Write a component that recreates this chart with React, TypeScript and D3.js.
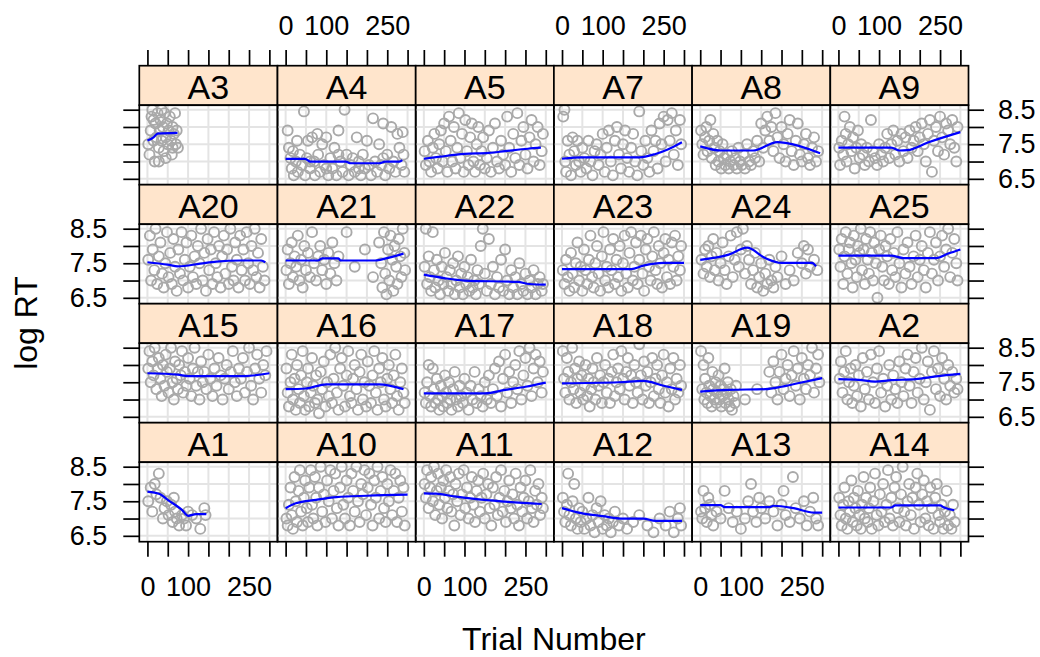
import React, { useEffect, useRef } from "react";
import * as d3 from "d3";

const width = 1040;
const height = 657;
const left = 139.3;
const top = 65.7;
const colW = 138.2;
const rowH = 119;
const stripH = 39.5;
const panelH = rowH - stripH;
const font = "'Liberation Sans', Arial, sans-serif";

const trialTicks = [0, 50, 100, 150, 200, 250, 300];
const trialLabels = [0, 100, 250];
const rtTicks = [6.5, 7, 7.5, 8, 8.5];
const rtLabels = [6.5, 7.5, 8.5];
const trialDomain = [-20, 320];
const rtDomain = [6.33, 8.63];

// panel order, top row first (lattice draws bottom-up)
const layoutRows = [
  ["A3", "A4", "A5", "A7", "A8", "A9"],
  ["A20", "A21", "A22", "A23", "A24", "A25"],
  ["A15", "A16", "A17", "A18", "A19", "A2"],
  ["A1", "A10", "A11", "A12", "A13", "A14"],
];

// [trial number, log RT]
const ptsA3 = [[2,7.5],[5,7.2],[8,7.9],[10,8.3],[12,8.5],[15,7.6],[18,7.0],[20,8.1],[22,7.7],[25,8.4],[28,7.4],[30,7.9],[32,8.2],[35,7.6],[38,8.0],[40,7.3],[42,8.4],[45,7.7],[48,8.1],[50,7.5],[52,7.9],[55,8.3],[58,7.6],[60,7.2],[62,8.0],[65,7.8],[68,8.4],[70,7.5],[72,7.9],[75,7.4],[15,8.2],[35,8.5],[45,7.1],[28,7.0],[62,7.4]];
const ptsA4 = [[5,7.9],[8,7.4],[12,7.1],[15,6.8],[18,7.3],[20,6.6],[25,7.0],[28,7.6],[30,6.7],[35,7.2],[40,6.9],[45,8.45],[48,6.6],[52,7.1],[55,7.6],[60,6.8],[65,7.7],[70,7.0],[72,6.6],[78,7.8],[80,7.2],[85,6.7],[90,7.5],[95,6.9],[100,7.7],[105,6.6],[110,7.1],[115,6.8],[120,7.4],[125,6.6],[130,7.9],[135,7.0],[140,6.7],[145,8.5],[150,7.2],[155,6.6],[160,6.9],[165,7.1],[170,6.7],[175,7.7],[180,7.0],[185,6.6],[190,7.2],[195,6.8],[200,7.6],[205,6.9],[210,6.6],[215,8.25],[220,7.0],[225,6.7],[230,7.5],[235,6.9],[240,8.1],[245,6.6],[250,7.2],[255,6.8],[260,8.0],[265,7.0],[270,6.7],[275,7.8],[280,7.4],[285,6.9],[288,7.85],[290,7.2],[292,6.7],[60,7.0],[100,6.8],[180,6.8],[240,7.1],[130,7.2]];
const ptsA5 = [[2,7.3],[5,6.9],[10,7.6],[14,7.0],[18,6.7],[22,7.4],[26,7.8],[30,7.1],[34,6.8],[38,7.5],[42,7.9],[46,7.0],[50,8.1],[54,7.3],[58,6.7],[62,8.3],[66,7.6],[70,7.0],[74,8.0],[78,6.8],[82,7.4],[86,8.4],[90,7.1],[94,7.8],[98,6.7],[102,8.2],[106,7.3],[110,6.9],[114,7.7],[118,8.1],[122,7.0],[126,6.7],[130,7.5],[134,8.0],[138,6.9],[142,7.3],[146,7.7],[150,6.8],[155,7.1],[160,7.9],[165,6.7],[170,7.4],[175,8.1],[180,7.0],[185,6.8],[190,7.6],[195,7.2],[200,6.9],[205,8.3],[210,7.4],[215,6.7],[220,7.8],[225,7.1],[230,8.4],[235,6.9],[240,7.6],[245,8.0],[250,7.2],[255,6.8],[260,7.7],[265,8.2],[270,7.0],[275,7.5],[280,8.0],[285,6.9],[290,7.3],[293,7.8]];
const ptsA7 = [[3,8.3],[6,8.5],[8,7.0],[10,6.7],[14,7.6],[18,7.2],[22,6.6],[26,7.7],[30,7.3],[34,6.9],[38,7.6],[42,7.0],[46,6.7],[50,7.4],[55,7.1],[60,6.8],[65,7.6],[70,7.0],[75,6.6],[80,7.3],[85,7.5],[90,6.9],[95,7.2],[100,7.8],[105,6.7],[110,7.4],[115,7.9],[120,7.0],[125,6.6],[130,7.6],[135,8.0],[140,7.2],[145,6.8],[150,7.5],[155,7.9],[160,7.1],[165,6.7],[170,7.4],[175,7.8],[180,7.0],[185,6.6],[190,8.45],[195,7.3],[200,6.9],[205,7.6],[210,7.1],[215,6.7],[220,7.9],[225,7.3],[230,7.6],[235,6.8],[240,8.1],[245,7.5],[250,8.3],[255,7.0],[260,8.2],[265,7.6],[270,8.4],[275,7.2],[280,7.9],[285,6.9],[290,8.2],[293,7.5]];
const ptsA8 = [[2,7.9],[5,7.5],[8,7.2],[12,7.7],[15,8.0],[18,7.3],[22,7.6],[25,8.2],[28,7.1],[32,7.8],[35,7.4],[38,6.9],[42,7.6],[45,7.0],[48,7.3],[52,6.8],[55,7.5],[58,7.1],[62,6.9],[66,7.2],[70,6.8],[74,7.0],[78,7.3],[82,6.9],[86,7.1],[90,6.8],[94,7.4],[98,7.0],[102,6.9],[106,7.2],[110,6.8],[115,7.5],[120,7.0],[125,6.9],[130,7.3],[135,7.1],[140,7.6],[145,7.0],[150,8.1],[155,7.4],[160,7.9],[165,8.3],[170,7.6],[175,8.0],[180,7.3],[185,8.4],[190,7.7],[195,7.1],[200,8.0],[205,7.5],[210,7.0],[215,7.8],[220,8.2],[225,7.3],[230,6.9],[235,7.6],[240,8.1],[245,7.2],[250,7.0],[255,7.5],[260,7.8],[265,7.1],[270,6.9],[275,7.4],[280,7.7],[285,7.0],[290,7.3]];
const ptsA9 = [[2,7.4],[4,6.9],[8,7.6],[12,7.2],[15,8.3],[18,7.8],[20,7.0],[24,7.5],[28,8.0],[32,7.3],[36,7.7],[40,6.8],[44,7.4],[48,7.9],[52,7.1],[56,7.5],[60,7.2],[65,6.9],[70,7.4],[75,7.0],[80,8.2],[85,7.3],[90,7.1],[95,6.9],[100,7.5],[105,7.2],[110,7.0],[115,7.4],[120,7.8],[125,7.1],[130,7.5],[135,7.9],[140,7.2],[145,7.6],[150,7.0],[155,7.8],[160,7.3],[165,7.7],[170,7.1],[175,7.9],[180,7.4],[185,7.6],[190,8.0],[195,7.3],[200,7.7],[205,8.1],[210,7.5],[215,7.0],[220,7.8],[225,8.2],[230,6.7],[235,7.6],[240,8.0],[245,7.3],[250,8.3],[255,7.7],[260,7.2],[265,8.1],[270,7.9],[275,7.5],[280,8.2],[285,7.4],[290,7.0],[293,8.0]];
const ptsA20 = [[2,7.6],[6,8.3],[9,7.0],[13,7.9],[17,7.3],[20,8.5],[24,6.9],[28,7.7],[32,8.1],[36,7.2],[40,6.8],[44,7.5],[48,8.4],[52,7.1],[56,7.8],[60,6.9],[64,8.2],[68,7.4],[72,6.7],[76,7.9],[80,7.2],[84,8.4],[88,7.0],[92,7.6],[96,8.1],[100,6.8],[104,7.4],[108,8.3],[112,7.1],[116,7.7],[120,6.9],[124,8.0],[128,7.5],[132,8.5],[136,7.0],[140,7.8],[144,6.7],[148,8.2],[152,7.3],[156,7.9],[160,6.9],[164,8.4],[168,7.5],[172,7.1],[176,8.0],[180,6.8],[184,7.7],[188,8.3],[192,7.2],[196,7.9],[200,6.9],[204,8.5],[208,7.4],[212,7.0],[216,8.1],[220,7.6],[224,6.8],[228,8.3],[232,7.3],[236,7.9],[240,7.0],[244,8.4],[248,7.5],[252,6.9],[256,8.0],[260,7.3],[264,8.5],[268,7.1],[272,7.8],[276,6.8],[280,8.2],[284,7.4],[288,7.0]];
const ptsA21 = [[2,7.3],[5,7.9],[8,6.9],[12,7.5],[15,8.1],[18,7.1],[22,7.7],[26,7.4],[30,8.3],[34,7.0],[38,7.6],[42,6.8],[46,8.0],[50,7.3],[55,7.8],[60,7.1],[65,8.4],[70,7.5],[75,7.0],[80,7.7],[85,8.0],[90,7.3],[95,7.6],[100,6.9],[105,7.8],[110,7.2],[115,8.1],[120,7.5],[125,7.0],[130,7.7],[150,8.4],[170,7.4],[195,7.9],[215,7.1],[230,8.1],[235,7.5],[238,6.8],[242,8.4],[245,7.2],[248,6.6],[252,7.9],[255,7.0],[258,8.3],[262,7.6],[265,6.7],[268,8.0],[272,7.4],[275,6.9],[278,8.2],[282,7.7],[285,7.1],[288,8.5],[292,7.8],[294,7.3]];
const ptsA22 = [[2,7.4],[5,8.5],[8,6.9],[12,7.7],[15,7.1],[18,6.7],[22,8.4],[25,7.3],[28,6.8],[32,7.6],[36,7.0],[40,6.6],[44,7.4],[48,6.9],[52,7.8],[56,7.1],[60,6.7],[64,7.3],[68,6.9],[72,7.5],[76,6.6],[80,7.0],[84,7.7],[88,6.8],[92,7.2],[96,6.6],[100,7.4],[104,6.9],[108,7.1],[112,6.7],[116,7.6],[120,6.8],[124,7.0],[128,6.6],[132,7.3],[136,6.9],[140,8.0],[145,8.5],[150,7.2],[155,6.7],[160,8.2],[165,6.9],[170,7.4],[175,6.6],[180,7.1],[185,6.8],[190,7.6],[195,6.7],[200,7.9],[205,7.0],[210,6.6],[215,7.3],[220,6.8],[225,7.1],[230,6.6],[235,7.5],[240,6.9],[245,6.7],[250,7.2],[255,6.6],[260,7.0],[265,6.8],[270,7.3],[275,6.6],[280,6.9],[285,7.1],[290,6.7],[293,6.9]];
const ptsA23 = [[2,7.3],[6,6.9],[10,7.6],[14,7.1],[18,6.7],[22,7.8],[26,7.2],[30,6.8],[34,7.5],[38,8.1],[42,7.0],[46,7.4],[50,6.7],[54,7.9],[58,7.3],[62,6.9],[66,7.6],[70,8.3],[74,7.1],[78,6.8],[82,7.5],[86,8.0],[90,7.2],[94,6.7],[98,7.7],[102,8.4],[106,7.0],[110,7.4],[114,6.8],[118,7.9],[122,7.3],[126,8.2],[130,6.9],[134,7.6],[138,7.1],[142,8.0],[146,6.7],[150,7.5],[154,8.3],[158,7.2],[162,6.8],[166,7.8],[170,8.4],[174,7.0],[178,7.4],[182,8.1],[186,6.9],[190,7.6],[194,8.3],[198,7.2],[202,6.7],[206,7.9],[210,8.2],[214,7.4],[218,7.0],[222,7.7],[226,8.4],[230,7.3],[234,6.9],[238,8.0],[242,7.5],[246,6.8],[250,7.8],[254,8.2],[258,7.1],[262,7.6],[266,6.9],[270,8.1],[274,7.4],[278,8.3],[282,7.0],[286,7.7],[290,7.3],[293,8.0]];
const ptsA24 = [[3,7.6],[8,7.2],[12,7.9],[16,7.4],[20,8.0],[24,7.1],[28,7.7],[32,8.2],[36,7.3],[40,7.8],[45,7.0],[50,7.5],[55,8.1],[60,7.3],[65,6.9],[70,7.7],[75,8.3],[80,7.1],[85,7.6],[90,8.4],[95,7.4],[100,7.9],[105,8.5],[110,7.2],[115,8.0],[120,7.6],[125,6.9],[130,7.3],[135,7.8],[140,6.8],[145,7.1],[150,7.5],[155,6.7],[160,7.2],[165,6.9],[170,7.6],[175,7.0],[180,6.8],[185,7.4],[190,7.1],[200,7.7],[210,6.9],[220,7.3],[230,7.0],[240,7.8],[250,7.5],[255,8.0],[260,7.2],[265,7.9],[270,7.4],[280,7.6],[288,7.3]];
const ptsA25 = [[2,7.9],[5,7.4],[8,8.2],[12,6.9],[15,7.7],[18,8.4],[22,7.2],[25,7.9],[28,8.1],[32,7.5],[35,6.8],[38,8.3],[42,7.6],[45,7.1],[48,8.0],[52,7.8],[55,8.5],[58,7.3],[62,7.9],[65,6.9],[68,8.2],[72,7.6],[75,7.2],[78,8.4],[82,7.8],[85,7.0],[88,8.1],[92,7.5],[96,6.5],[100,7.9],[104,8.3],[108,7.4],[112,7.0],[116,8.0],[120,7.7],[124,6.9],[128,8.2],[132,7.3],[136,7.8],[140,7.1],[145,8.4],[150,7.5],[155,6.8],[160,7.9],[165,7.2],[170,8.1],[175,7.4],[180,6.9],[185,7.7],[190,8.3],[195,7.1],[200,7.6],[205,8.0],[210,7.3],[215,6.8],[220,7.8],[225,8.4],[230,7.2],[235,7.6],[240,8.1],[245,7.0],[250,7.7],[255,8.3],[260,7.4],[265,7.9],[270,8.5],[275,7.1],[280,7.8],[285,8.2],[290,7.5],[293,7.0]];
const ptsA15 = [[2,7.9],[5,8.4],[8,7.5],[12,8.1],[15,7.7],[18,8.5],[22,7.3],[25,7.9],[28,8.2],[32,7.6],[35,7.1],[38,8.0],[42,7.4],[45,8.3],[48,7.8],[52,7.2],[55,7.9],[58,8.5],[62,7.5],[65,7.0],[68,8.1],[72,7.6],[75,7.3],[78,8.0],[82,7.7],[85,8.4],[88,7.2],[92,7.8],[96,7.4],[100,8.2],[104,7.6],[108,7.1],[112,7.9],[116,8.5],[120,7.4],[124,7.8],[128,7.0],[132,8.1],[136,7.5],[140,7.8],[145,7.3],[150,8.3],[155,7.6],[160,7.1],[165,7.9],[170,7.4],[175,8.2],[180,7.7],[185,7.0],[190,7.6],[195,8.0],[200,7.3],[205,7.8],[210,8.4],[215,7.5],[220,7.1],[225,7.9],[230,7.6],[235,8.2],[240,7.2],[245,7.8],[250,8.5],[255,7.4],[260,7.0],[265,7.9],[270,8.3],[275,7.6],[280,7.2],[285,8.0],[290,7.7],[293,8.4]];
const ptsA16 = [[2,7.9],[5,7.2],[8,6.8],[12,7.5],[15,8.3],[18,7.0],[22,7.6],[25,6.7],[28,8.0],[32,7.3],[35,6.9],[38,7.7],[42,8.4],[45,7.1],[48,6.7],[52,7.5],[55,7.9],[58,6.8],[62,7.2],[65,8.2],[68,7.4],[72,6.9],[75,7.7],[78,7.0],[82,6.6],[86,7.8],[90,7.3],[94,8.1],[98,6.8],[102,7.5],[106,7.1],[110,8.3],[114,6.9],[118,7.6],[122,8.5],[126,7.2],[130,6.7],[134,7.9],[138,8.2],[142,7.4],[146,6.8],[150,7.7],[154,8.4],[158,7.1],[162,6.9],[166,7.6],[170,8.0],[174,7.3],[178,6.7],[182,7.8],[186,8.3],[190,7.0],[194,7.5],[198,6.8],[202,8.1],[206,7.4],[210,6.9],[214,7.7],[218,8.4],[222,7.2],[226,6.7],[230,7.9],[234,7.5],[238,8.2],[242,7.0],[246,6.8],[250,7.6],[254,8.0],[258,7.3],[262,6.9],[266,7.7],[270,8.3],[274,7.1],[278,6.7],[282,7.5],[286,7.9],[290,7.2],[293,6.9]];
const ptsA17 = [[2,7.2],[5,6.9],[8,7.5],[12,8.0],[15,7.1],[18,6.8],[22,7.9],[25,7.3],[28,6.9],[32,7.6],[35,7.0],[38,6.7],[42,7.4],[45,7.1],[48,6.8],[52,7.7],[55,7.2],[58,6.9],[62,7.5],[65,7.0],[68,6.7],[72,7.3],[76,7.8],[80,7.0],[84,6.8],[88,7.4],[92,7.1],[96,6.9],[100,7.6],[105,7.2],[110,6.7],[115,7.4],[120,7.0],[125,7.8],[130,6.9],[135,7.3],[140,7.1],[145,6.8],[150,7.5],[155,7.0],[160,7.7],[165,6.9],[170,7.3],[175,7.9],[180,7.1],[185,8.1],[190,6.8],[195,7.6],[200,8.3],[205,7.2],[210,7.8],[215,6.9],[220,7.5],[225,8.0],[230,7.3],[235,8.4],[240,7.0],[245,7.7],[250,8.2],[255,7.4],[260,8.5],[265,7.1],[270,7.9],[275,8.3],[280,7.5],[285,8.1],[290,7.2],[293,7.8]];
const ptsA18 = [[2,8.4],[5,7.6],[8,7.2],[12,8.2],[15,7.8],[18,7.0],[22,7.5],[25,8.5],[28,7.3],[32,7.9],[35,6.9],[38,7.6],[42,8.1],[45,7.2],[48,7.7],[52,7.0],[55,7.4],[58,8.0],[62,7.1],[65,7.6],[68,6.8],[72,7.3],[75,7.9],[78,7.5],[82,7.0],[86,8.2],[90,7.4],[94,7.7],[98,6.9],[102,7.5],[106,8.0],[110,7.2],[114,7.6],[118,6.9],[122,7.8],[126,8.3],[130,7.1],[134,7.5],[138,7.9],[142,7.3],[146,8.4],[150,7.6],[154,7.0],[158,7.8],[162,8.2],[166,7.4],[170,7.7],[174,6.9],[178,8.0],[182,7.5],[186,7.2],[190,8.6],[194,7.7],[198,7.0],[202,8.1],[206,7.4],[210,7.8],[214,6.9],[218,7.5],[222,8.2],[226,7.1],[230,7.6],[234,8.0],[238,7.3],[242,6.9],[246,7.7],[250,8.3],[254,7.2],[258,7.5],[262,6.8],[266,7.9],[270,7.3],[274,8.2],[278,7.0],[282,7.6],[286,7.2],[290,8.0],[293,7.4]];
const ptsA19 = [[2,8.4],[5,7.3],[8,8.0],[10,7.0],[12,7.6],[15,7.2],[18,6.9],[20,8.2],[22,7.4],[25,7.1],[28,6.8],[30,7.8],[32,7.3],[35,7.0],[38,7.5],[40,6.9],[42,7.2],[45,7.7],[48,7.0],[50,7.4],[52,6.8],[55,7.1],[58,7.3],[60,7.9],[62,6.9],[65,7.2],[68,7.5],[70,7.0],[72,6.8],[75,7.3],[78,6.7],[82,7.1],[85,6.9],[88,7.4],[110,7.0],[140,7.3],[170,7.8],[175,7.2],[180,8.1],[185,7.5],[190,7.0],[195,7.8],[200,8.3],[205,7.3],[210,7.6],[215,8.0],[220,7.1],[225,7.7],[230,8.4],[235,7.4],[240,7.9],[245,7.0],[250,8.2],[255,7.6],[260,7.3],[265,8.0],[270,7.7],[275,8.5],[280,7.2],[285,7.9],[290,8.3],[293,7.5]];
const ptsA2 = [[3,7.6],[6,8.1],[10,7.2],[14,7.8],[18,8.4],[22,7.0],[26,7.5],[30,7.9],[34,6.9],[38,7.4],[42,8.0],[46,7.1],[50,7.7],[55,6.8],[60,8.2],[65,7.3],[70,7.8],[75,7.0],[80,8.3],[85,7.5],[90,6.9],[95,7.9],[100,8.4],[105,7.2],[110,7.6],[115,6.8],[120,7.4],[125,8.0],[130,7.0],[135,7.7],[140,7.3],[145,6.9],[150,8.1],[155,7.5],[160,7.1],[165,7.9],[170,8.3],[175,7.4],[180,6.9],[185,7.8],[190,8.2],[195,7.2],[200,7.6],[205,8.5],[210,7.0],[215,7.5],[220,8.1],[225,6.7],[230,7.8],[235,8.4],[240,7.3],[245,7.9],[250,7.1],[255,8.2],[260,7.6],[265,7.0],[270,8.0],[275,7.4],[280,7.8],[285,7.2],[290,7.6],[293,7.3]];
const ptsA1 = [[2,7.5],[8,7.9],[12,7.2],[18,8.0],[22,7.7],[28,8.3],[32,7.6],[38,7.0],[42,7.3],[48,7.5],[52,7.1],[58,7.4],[62,6.9],[68,7.2],[72,7.0],[78,6.8],[85,7.1],[90,7.0],[95,6.8],[110,7.1],[120,7.0],[130,6.7],[140,7.3],[143,7.1],[100,7.2],[65,7.6]];
const ptsA10 = [[2,7.0],[5,6.8],[8,7.4],[12,7.9],[15,7.1],[18,6.7],[22,8.2],[25,7.5],[28,6.9],[32,7.8],[35,8.4],[38,7.2],[42,6.8],[45,7.6],[48,8.1],[52,7.3],[55,6.9],[58,7.9],[62,8.4],[65,7.4],[68,7.0],[72,8.2],[75,7.6],[78,6.8],[82,7.9],[86,8.5],[90,7.2],[94,7.7],[98,6.9],[102,8.1],[106,7.5],[110,8.4],[114,7.0],[118,7.8],[122,8.3],[126,7.3],[130,6.8],[134,7.9],[138,8.5],[142,7.4],[146,7.0],[150,8.1],[154,7.6],[158,6.8],[162,8.3],[166,7.8],[170,7.2],[174,8.5],[178,7.5],[182,6.9],[186,8.0],[190,7.7],[194,8.4],[198,7.1],[202,7.9],[206,8.3],[210,7.4],[214,6.8],[218,8.1],[222,7.6],[226,8.5],[230,7.0],[234,7.8],[238,8.2],[242,7.3],[246,6.9],[250,8.0],[254,7.5],[258,8.4],[262,7.1],[266,7.8],[270,8.3],[274,6.9],[278,7.6],[282,8.1],[286,7.2],[290,7.9],[293,6.8]];
const ptsA11 = [[2,8.0],[5,7.6],[8,8.4],[12,7.3],[15,7.9],[18,8.2],[22,7.5],[25,8.5],[28,7.1],[32,7.8],[35,8.3],[38,7.4],[42,7.9],[45,7.0],[48,8.1],[52,7.6],[55,8.4],[58,7.3],[62,7.8],[65,8.2],[68,7.2],[72,7.7],[75,6.8],[78,8.0],[82,7.5],[86,8.3],[90,7.1],[94,7.7],[98,8.4],[102,7.3],[106,7.9],[110,7.0],[114,7.6],[118,8.2],[122,7.4],[126,6.9],[130,7.8],[134,8.1],[138,7.2],[142,7.6],[146,8.3],[150,7.0],[154,7.7],[158,8.0],[162,7.3],[166,6.8],[170,7.9],[174,7.4],[178,8.2],[182,7.1],[186,7.6],[190,8.4],[194,7.2],[198,7.8],[202,6.9],[206,7.5],[210,8.1],[214,7.3],[218,7.7],[222,7.0],[226,8.3],[230,7.4],[234,6.8],[238,7.9],[242,7.2],[246,7.6],[250,8.1],[254,7.0],[258,7.5],[262,8.4],[266,7.3],[270,6.9],[274,7.8],[278,7.4],[282,8.0],[286,7.1],[290,7.6],[293,7.3]];
const ptsA12 = [[2,7.6],[5,7.2],[8,6.9],[12,7.4],[15,8.3],[18,7.1],[22,6.8],[26,7.5],[30,8.0],[34,7.0],[38,6.7],[42,7.3],[46,6.9],[50,7.2],[55,6.7],[60,7.0],[65,7.6],[70,6.8],[75,7.1],[80,6.6],[85,7.3],[90,6.9],[95,7.5],[100,6.7],[105,7.1],[110,6.8],[115,7.0],[120,6.6],[125,6.9],[130,7.2],[140,6.8],[150,7.0],[160,6.7],[175,6.9],[190,7.1],[210,6.8],[225,6.6],[240,7.0],[255,6.8],[265,7.2],[275,6.6],[285,7.0],[290,7.3],[293,6.8]];
const ptsA13 = [[2,7.2],[5,7.0],[8,7.8],[12,7.3],[16,6.9],[20,7.6],[24,7.4],[28,7.1],[32,6.8],[40,7.2],[50,7.0],[60,7.8],[70,7.3],[80,6.9],[90,7.2],[100,6.7],[110,7.0],[118,7.5],[125,8.0],[130,7.2],[138,6.9],[145,7.6],[150,7.3],[160,7.0],[170,7.5],[180,7.2],[190,6.8],[200,7.4],[205,7.8],[210,7.1],[220,6.9],[228,8.2],[235,7.3],[245,7.0],[255,7.5],[262,6.8],[270,7.2],[278,7.6],[285,7.0],[290,6.8]];
const ptsA14 = [[2,7.6],[5,7.1],[8,6.8],[12,7.4],[15,7.9],[18,7.0],[22,6.7],[25,7.5],[28,7.2],[32,8.1],[35,6.9],[38,7.6],[42,7.3],[45,6.8],[48,7.8],[52,7.1],[55,6.7],[58,7.4],[62,8.2],[65,7.0],[68,7.6],[72,6.9],[75,7.3],[78,7.9],[82,6.7],[86,7.5],[90,8.3],[94,7.1],[98,6.8],[102,7.7],[106,7.2],[110,8.0],[114,6.9],[118,7.4],[122,8.4],[126,7.0],[130,7.6],[134,6.8],[138,7.9],[142,8.2],[146,7.3],[150,6.9],[154,7.7],[158,8.5],[162,7.2],[166,6.8],[170,7.5],[174,8.0],[178,7.1],[182,7.6],[186,6.7],[190,7.9],[194,8.3],[198,7.4],[202,6.9],[206,7.7],[210,8.1],[214,7.0],[218,7.5],[222,6.8],[226,7.9],[230,7.3],[234,6.7],[238,7.6],[242,8.0],[246,7.1],[250,6.9],[254,7.4],[258,6.7],[262,7.2],[266,7.8],[270,6.8],[274,7.1],[278,6.7],[282,7.4],[286,6.9]];

// loess curves
const fitA3 = [[0,7.61],[15,7.7],[25,7.81],[74,7.83]];
const fitA4 = [[0,7.08],[48,7.08],[60,7.0],[148,7.0],[160,6.95],[230,6.95],[245,7.0],[280,7.0],[287,7.04]];
const fitA5 = [[0,7.08],[40,7.14],[100,7.22],[160,7.25],[200,7.3],[256,7.37],[288,7.4]];
const fitA7 = [[0,7.08],[50,7.12],[190,7.12],[230,7.22],[260,7.35],[295,7.56]];
const fitA8 = [[0,7.44],[50,7.32],[130,7.32],[190,7.56],[210,7.54],[295,7.24]];
const fitA9 = [[0,7.4],[130,7.4],[150,7.32],[170,7.33],[220,7.55],[300,7.85]];
const fitA20 = [[0,7.53],[50,7.46],[75,7.41],[130,7.49],[170,7.55],[230,7.58],[280,7.58],[290,7.53]];
const fitA21 = [[0,7.58],[80,7.58],[90,7.64],[130,7.64],[135,7.58],[220,7.58],[250,7.65],[290,7.78]];
const fitA22 = [[0,7.17],[50,7.07],[100,7.0],[230,6.96],[260,6.9],[300,6.88]];
const fitA23 = [[0,7.33],[170,7.33],[200,7.43],[250,7.51],[300,7.51]];
const fitA24 = [[0,7.6],[70,7.75],[115,7.95],[160,7.65],[200,7.51],[275,7.51],[285,7.41]];
const fitA25 = [[0,7.72],[130,7.72],[160,7.65],[240,7.65],[270,7.78],[300,7.9]];
const fitA15 = [[0,7.76],[75,7.72],[100,7.68],[240,7.68],[300,7.76]];
const fitA16 = [[0,7.3],[50,7.32],[100,7.44],[230,7.44],[290,7.3]];
const fitA17 = [[0,7.18],[150,7.18],[200,7.28],[250,7.37],[300,7.49]];
const fitA18 = [[0,7.47],[140,7.5],[200,7.54],[250,7.4],[295,7.28]];
const fitA19 = [[0,7.23],[70,7.28],[160,7.3],[200,7.37],[240,7.47],[280,7.57],[300,7.62]];
const fitA2 = [[0,7.59],[50,7.57],[90,7.52],[130,7.56],[190,7.59],[240,7.67],[300,7.74]];
const fitA1 = [[0,7.78],[30,7.71],[50,7.54],[85,7.25],[100,7.08],[120,7.13],[145,7.13]];
const fitA10 = [[0,7.3],[25,7.44],[75,7.54],[125,7.62],[200,7.66],[300,7.69]];
const fitA11 = [[0,7.73],[30,7.72],[75,7.64],[130,7.56],[200,7.49],[290,7.42]];
const fitA12 = [[0,7.3],[50,7.15],[100,7.07],[150,7.0],[200,7.0],[230,6.93],[295,6.93]];
const fitA13 = [[0,7.39],[50,7.39],[60,7.33],[170,7.33],[180,7.37],[230,7.3],[280,7.17],[300,7.17]];
const fitA14 = [[0,7.32],[130,7.32],[140,7.38],[250,7.38],[260,7.32],[285,7.24]];

const subjects: Record<string, { pts: number[][]; fit: number[][] }> = {
  A3: { pts: ptsA3, fit: fitA3 }, A4: { pts: ptsA4, fit: fitA4 }, A5: { pts: ptsA5, fit: fitA5 },
  A7: { pts: ptsA7, fit: fitA7 }, A8: { pts: ptsA8, fit: fitA8 }, A9: { pts: ptsA9, fit: fitA9 },
  A20: { pts: ptsA20, fit: fitA20 }, A21: { pts: ptsA21, fit: fitA21 }, A22: { pts: ptsA22, fit: fitA22 },
  A23: { pts: ptsA23, fit: fitA23 }, A24: { pts: ptsA24, fit: fitA24 }, A25: { pts: ptsA25, fit: fitA25 },
  A15: { pts: ptsA15, fit: fitA15 }, A16: { pts: ptsA16, fit: fitA16 }, A17: { pts: ptsA17, fit: fitA17 },
  A18: { pts: ptsA18, fit: fitA18 }, A19: { pts: ptsA19, fit: fitA19 }, A2: { pts: ptsA2, fit: fitA2 },
  A1: { pts: ptsA1, fit: fitA1 }, A10: { pts: ptsA10, fit: fitA10 }, A11: { pts: ptsA11, fit: fitA11 },
  A12: { pts: ptsA12, fit: fitA12 }, A13: { pts: ptsA13, fit: fitA13 }, A14: { pts: ptsA14, fit: fitA14 },
};

const xScaleFor = (col: number) =>
  d3.scaleLinear().domain(trialDomain).range([left + col * colW, left + (col + 1) * colW]);
const yScaleFor = (row: number) => {
  const pTop = top + row * rowH + stripH;
  return d3.scaleLinear().domain(rtDomain).range([pTop + panelH, pTop]);
};

function Axis({ orient, scale, at, labelled }: any) {
  const ref = useRef<SVGGElement>(null);
  useEffect(() => {
    const isX = orient === "top" || orient === "bottom";
    let ax: any;
    if (orient === "left") ax = d3.axisLeft(scale).tickSize(16).tickPadding(16);
    else if (orient === "right") ax = d3.axisRight(scale).tickSize(15.5).tickPadding(14);
    else if (orient === "top") ax = d3.axisTop(scale).tickSize(15.7).tickPadding(15);
    else ax = d3.axisBottom(scale).tickSize(15).tickPadding(20);
    if (isX) {
      ax.tickValues(trialTicks).tickFormat((d: number) => (labelled && trialLabels.includes(d) ? String(d) : ""));
    } else {
      ax.tickValues(rtTicks).tickFormat((d: number) => (labelled && rtLabels.includes(d) ? d3.format(".1f")(d) : ""));
    }
    const g = d3.select(ref.current).call(ax);
    g.attr("font-size", 27).attr("font-family", font);
    g.select(".domain").remove();
    g.selectAll(".tick line").attr("stroke", "#000").attr("stroke-width", 1.7);
    g.selectAll(".tick text").attr("fill", "#000");
  });
  return <g ref={ref} transform={at} />;
}

function Panel({ id, row, col }: { id: string; row: number; col: number }) {
  const x = xScaleFor(col);
  const y = yScaleFor(row);
  const x0 = left + col * colW;
  const sTop = top + row * rowH;
  const pTop = sTop + stripH;
  const data = subjects[id];
  const line = d3.line<number[]>().x(d => x(d[0])).y(d => y(d[1])).curve(d3.curveMonotoneX);
  const clip = `clip-${id}`;
  return (
    <g>
      <clipPath id={clip}>
        <rect x={x0} y={pTop} width={colW} height={panelH} />
      </clipPath>
      <rect x={x0} y={sTop} width={colW} height={stripH} fill="#ffe5cc" />
      <text x={x0 + colW / 2} y={pTop - 6} textAnchor="middle" fontSize={34} fontFamily={font} fill="#000">
        {id}
      </text>
      <g clipPath={`url(#${clip})`}>
        {trialTicks.map(t => (
          <line key={"v" + t} x1={x(t)} x2={x(t)} y1={pTop} y2={pTop + panelH} stroke="#e4e4e4" strokeWidth={2} />
        ))}
        {rtTicks.map(v => (
          <line key={"h" + v} x1={x0} x2={x0 + colW} y1={y(v)} y2={y(v)} stroke="#e4e4e4" strokeWidth={2} />
        ))}
        {data.pts.map((d, i) => (
          <circle key={i} cx={x(d[0])} cy={y(d[1])} r={5} fill="none" stroke="#a9a9a9" strokeWidth={1.9} />
        ))}
        <path d={line(data.fit) || ""} fill="none" stroke="#0000ff" strokeWidth={2.2} />
      </g>
      <rect x={x0} y={sTop} width={colW} height={stripH} fill="none" stroke="#000" strokeWidth={1.7} />
      <rect x={x0} y={pTop} width={colW} height={panelH} fill="none" stroke="#000" strokeWidth={1.7} />
    </g>
  );
}

export default function App() {
  const nRows = layoutRows.length;
  const nCols = layoutRows[0].length;
  const right = left + nCols * colW;
  const bottom = top + nRows * rowH;
  return (
    <svg width={width} height={height} style={{ position: "absolute", left: 0, top: 0, background: "#fff" }}>
      <rect width={width} height={height} fill="#fff" />
      {layoutRows.map((ids, r) => ids.map((id, c) => <Panel key={id} id={id} row={r} col={c} />))}
      {layoutRows.map((_, r) => (
        <Axis key={"l" + r} orient="left" scale={yScaleFor(r)} at={`translate(${left},0)`} labelled={r % 2 === 1} />
      ))}
      {layoutRows.map((_, r) => (
        <Axis key={"r" + r} orient="right" scale={yScaleFor(r)} at={`translate(${right},0)`} labelled={r % 2 === 0} />
      ))}
      {layoutRows[0].map((_, c) => (
        <Axis key={"t" + c} orient="top" scale={xScaleFor(c)} at={`translate(0,${top})`} labelled={c % 2 === 1} />
      ))}
      {layoutRows[0].map((_, c) => (
        <Axis key={"b" + c} orient="bottom" scale={xScaleFor(c)} at={`translate(0,${bottom})`} labelled={c % 2 === 0} />
      ))}
      <text x={(left + right) / 2} y={650} textAnchor="middle" fontSize={32} fontFamily={font} fill="#000">
        Trial Number
      </text>
      <text transform={`translate(37,323) rotate(-90)`} textAnchor="middle" fontSize={32} fontFamily={font} fill="#000">
        log RT
      </text>
    </svg>
  );
}
